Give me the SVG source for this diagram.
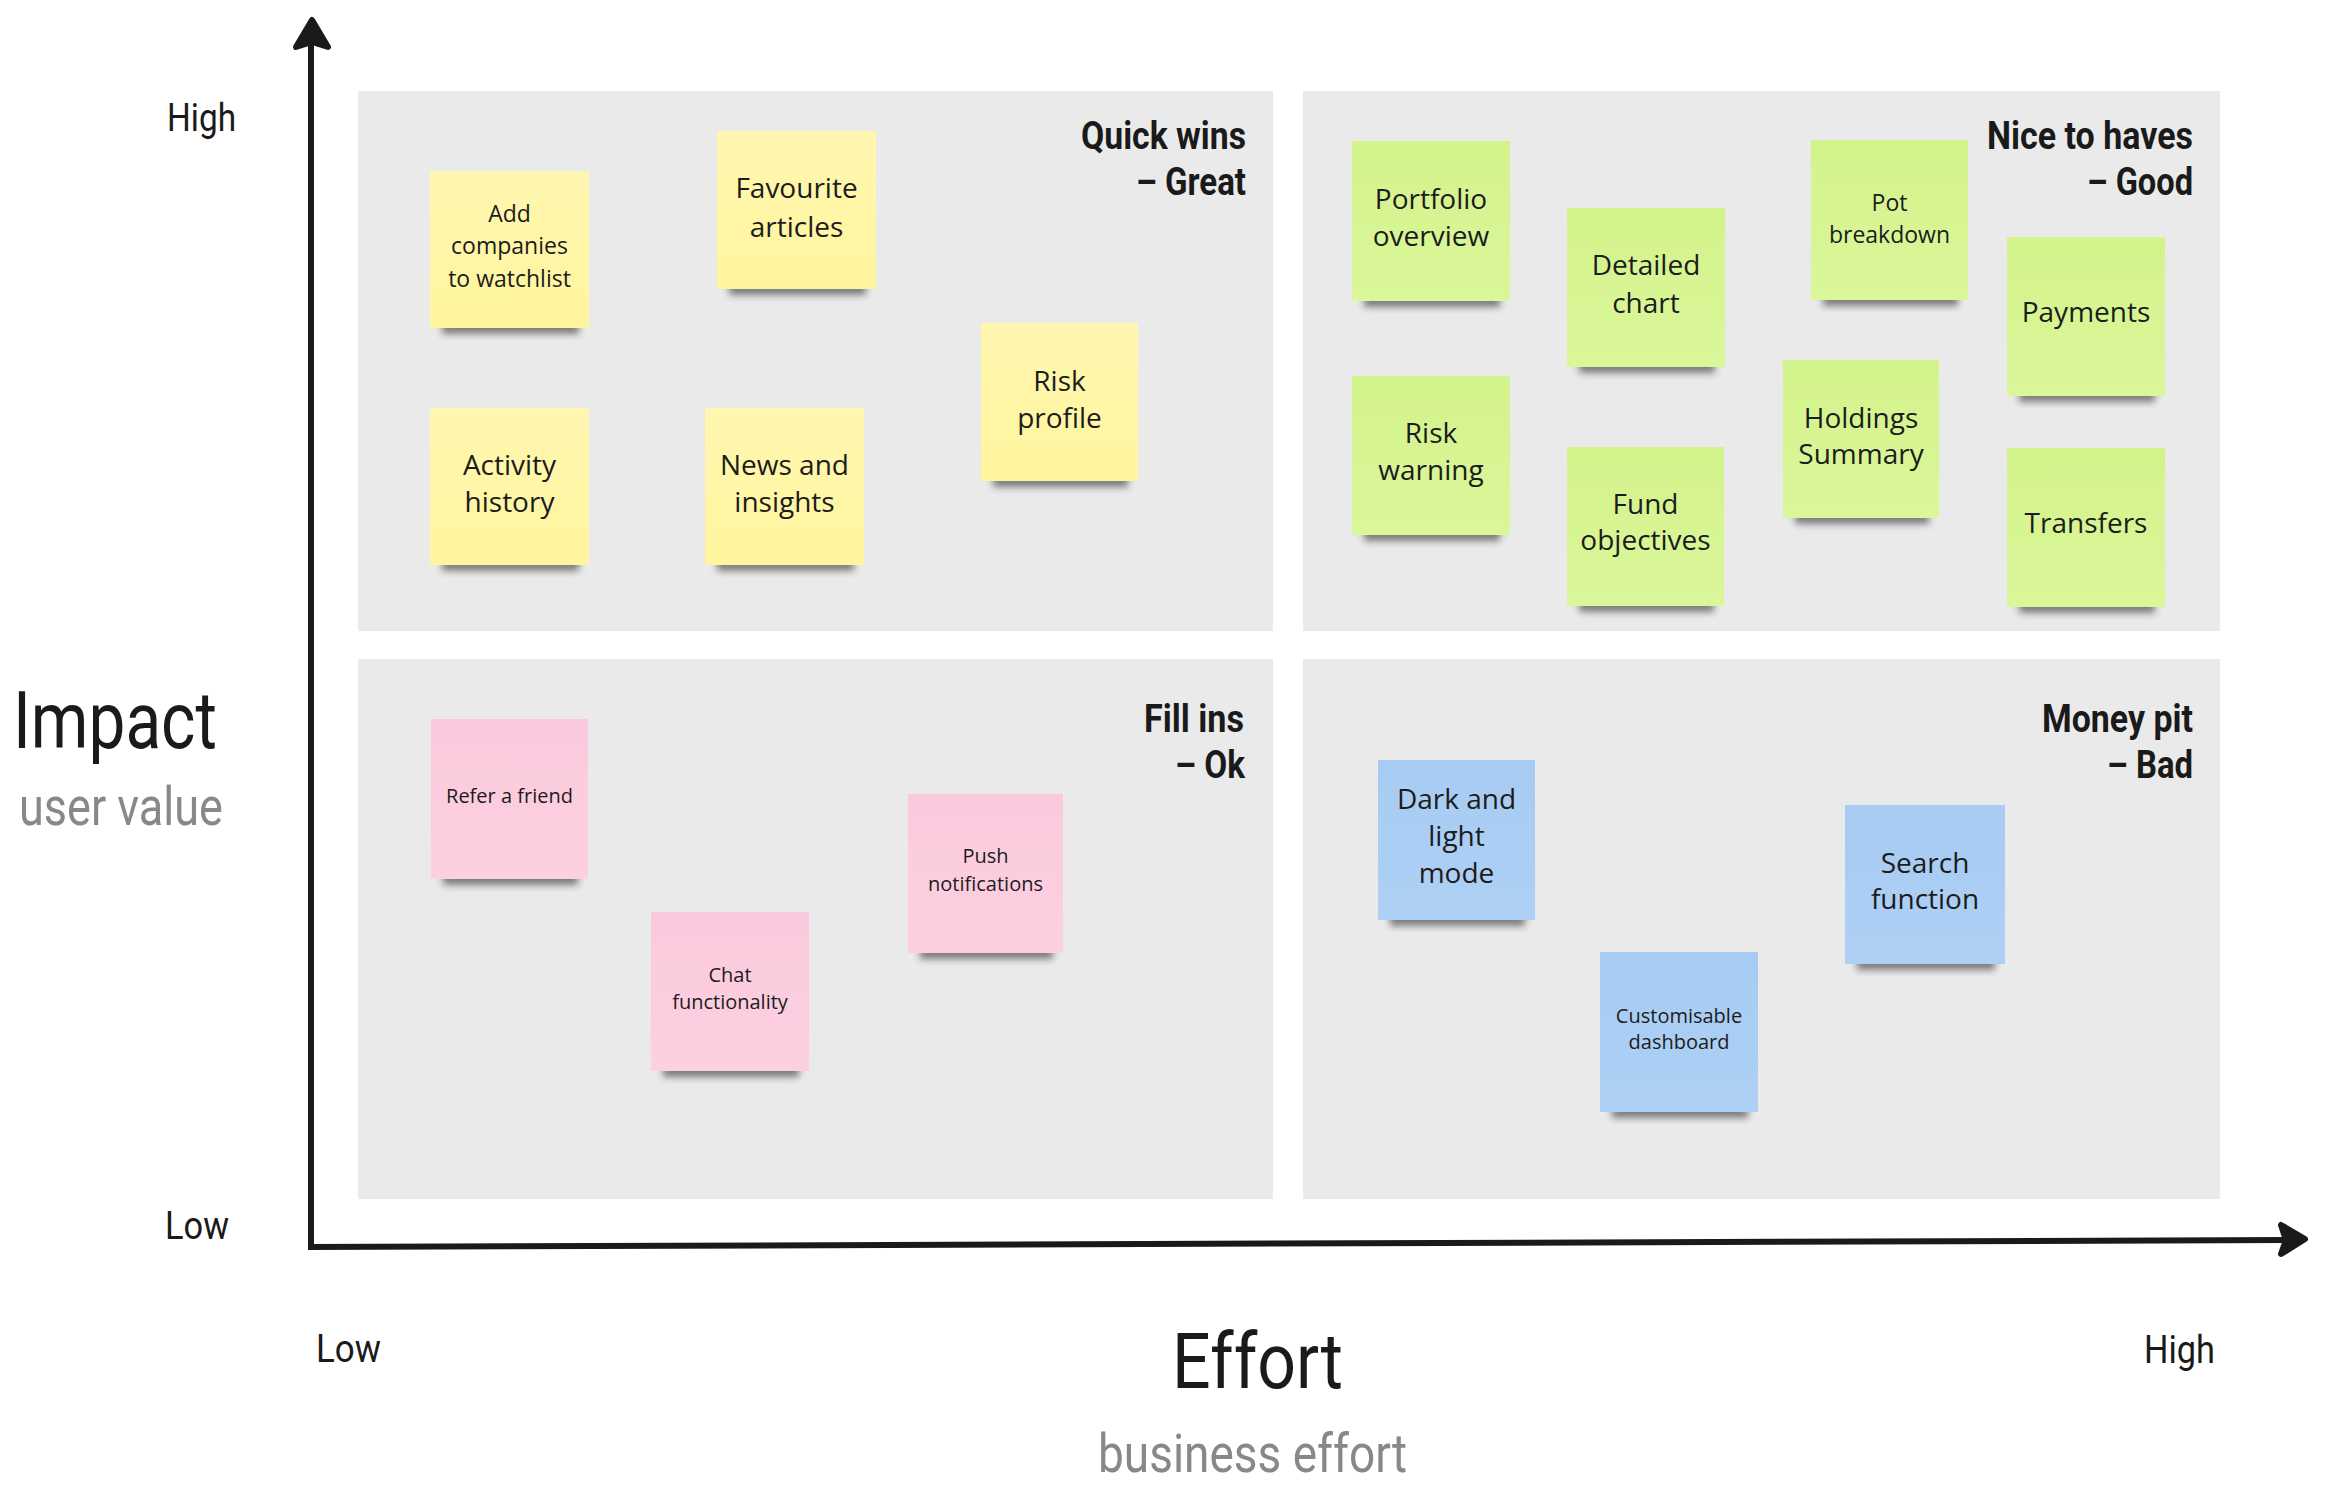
<svg xmlns="http://www.w3.org/2000/svg" width="2327" height="1489" viewBox="0 0 2327 1489">
<defs>
<filter id="sh" x="-20%" y="-100%" width="140%" height="300%"><feGaussianBlur stdDeviation="3.5"/></filter>
<linearGradient id="gy" x1="0" y1="0" x2="0" y2="1"><stop offset="0" stop-color="#FFF7B0"/><stop offset="1" stop-color="#FFF59E"/></linearGradient>
<linearGradient id="gg" x1="0" y1="0" x2="0" y2="1"><stop offset="0" stop-color="#D3F38C"/><stop offset="1" stop-color="#DAF799"/></linearGradient>
<linearGradient id="gp" x1="0" y1="0" x2="0" y2="1"><stop offset="0" stop-color="#FBC9DD"/><stop offset="1" stop-color="#FDD0E1"/></linearGradient>
<linearGradient id="gb" x1="0" y1="0" x2="0" y2="1"><stop offset="0" stop-color="#A7CBF2"/><stop offset="1" stop-color="#AED0F5"/></linearGradient>
</defs>
<style>
.panel{fill:#EAEAEA}
.shadow{fill:#222;opacity:.55;filter:url(#sh)}
.y{fill:url(#gy)}.g{fill:url(#gg)}.p{fill:url(#gp)}.b{fill:url(#gb)}
.nt{font-family:"Open Sans","Noto Sans",sans-serif;fill:#1c1c1c;text-anchor:middle}
.f28{font-size:28px}.f23{font-size:23px}.f20{font-size:20px}
.qt{font-family:Roboto,"Liberation Sans",sans-serif;font-weight:700;font-size:38px;fill:#1a1a1a}
.ax{font-family:Roboto,"Liberation Sans",sans-serif;fill:#1a1a1a}
.sub{fill:#888888}
.axis{stroke:#1a1a1a;stroke-width:6;fill:none;stroke-linecap:butt}
.head{fill:#1a1a1a;stroke:#1a1a1a;stroke-width:6;stroke-linejoin:round}
</style>
<rect width="2327" height="1489" fill="#FFFFFF"/>

<g id="quadrants">
<g id="q-quick-wins">
<rect class="panel" x="358" y="91" width="915" height="540"/>
<text class="qt" x="1081" y="149" textLength="165" lengthAdjust="spacingAndGlyphs">Quick wins</text>
<text class="qt" x="1136" y="195" textLength="110" lengthAdjust="spacingAndGlyphs">– Great</text>
</g>
<g id="q-nice-to-haves">
<rect class="panel" x="1303" y="91" width="917" height="540"/>
<text class="qt" x="1987" y="149" textLength="206" lengthAdjust="spacingAndGlyphs">Nice to haves</text>
<text class="qt" x="2087" y="195" textLength="106" lengthAdjust="spacingAndGlyphs">– Good</text>
</g>
<g id="q-fill-ins">
<rect class="panel" x="358" y="659" width="915" height="540"/>
<text class="qt" x="1144" y="732" textLength="100" lengthAdjust="spacingAndGlyphs">Fill ins</text>
<text class="qt" x="1175" y="778" textLength="70" lengthAdjust="spacingAndGlyphs">– Ok</text>
</g>
<g id="q-money-pit">
<rect class="panel" x="1303" y="659" width="917" height="540"/>
<text class="qt" x="2042" y="732" textLength="151" lengthAdjust="spacingAndGlyphs">Money pit</text>
<text class="qt" x="2107" y="778" textLength="86" lengthAdjust="spacingAndGlyphs">– Bad</text>
</g>
</g>

<g id="connectors">
<line class="axis" x1="311" y1="40" x2="311" y2="1250"/>
<path class="head" d="M312,20 L328,47 L312,42 L296,47 Z"/>
<line class="axis" x1="308" y1="1247" x2="2288" y2="1240"/>
<path class="head" d="M2305,1239 L2281,1225 L2286,1240 L2281,1254 Z"/>
</g>

<g id="labels">
<text class="ax" x="167" y="131" font-size="39" textLength="69" lengthAdjust="spacingAndGlyphs">High</text>
<text class="ax" x="165" y="1239" font-size="39" textLength="64" lengthAdjust="spacingAndGlyphs">Low</text>
<text class="ax" x="316" y="1362" font-size="39" textLength="65" lengthAdjust="spacingAndGlyphs">Low</text>
<text class="ax" x="2144" y="1363" font-size="39" textLength="71" lengthAdjust="spacingAndGlyphs">High</text>
<text class="ax" x="1172" y="1388" font-size="77" textLength="171" lengthAdjust="spacingAndGlyphs">Effort</text>
<text class="ax sub" x="1098" y="1472" font-size="53" textLength="309" lengthAdjust="spacingAndGlyphs">business effort</text>
<text class="ax" x="13" y="748" font-size="79" textLength="204" lengthAdjust="spacingAndGlyphs">Impact</text>
<text class="ax sub" x="19" y="825" font-size="53" textLength="204" lengthAdjust="spacingAndGlyphs">user value</text>
</g>

<g id="stickies">
<g id="n-add-companies">
<rect class="shadow" x="442" y="320" width="137" height="14"/>
<rect class="y" x="430" y="171" width="159" height="157"/>
<text class="nt f23"><tspan x="509.5" y="222">Add</tspan><tspan x="509.5" y="254">companies</tspan><tspan x="509.5" y="287">to watchlist</tspan></text>
</g>
<g id="n-favourite-articles">
<rect class="shadow" x="729" y="281" width="137" height="14"/>
<rect class="y" x="717" y="131" width="159" height="158"/>
<text class="nt f28"><tspan x="796.5" y="198">Favourite</tspan><tspan x="796.5" y="237">articles</tspan></text>
</g>
<g id="n-activity-history">
<rect class="shadow" x="442" y="557" width="137" height="14"/>
<rect class="y" x="430" y="408" width="159" height="157"/>
<text class="nt f28"><tspan x="509.5" y="475">Activity</tspan><tspan x="509.5" y="512">history</tspan></text>
</g>
<g id="n-news-insights">
<rect class="shadow" x="717" y="557" width="137" height="14"/>
<rect class="y" x="705" y="408" width="159" height="157"/>
<text class="nt f28"><tspan x="784.5" y="475">News and</tspan><tspan x="784.5" y="512">insights</tspan></text>
</g>
<g id="n-risk-profile">
<rect class="shadow" x="993" y="473" width="135" height="14"/>
<rect class="y" x="981" y="323" width="157" height="158"/>
<text class="nt f28"><tspan x="1059.5" y="391">Risk</tspan><tspan x="1059.5" y="428">profile</tspan></text>
</g>

<g id="n-portfolio-overview">
<rect class="shadow" x="1364" y="293" width="136" height="14"/>
<rect class="g" x="1352" y="141" width="158" height="160"/>
<text class="nt f28"><tspan x="1431" y="209">Portfolio</tspan><tspan x="1431" y="246">overview</tspan></text>
</g>
<g id="n-detailed-chart">
<rect class="shadow" x="1579" y="359" width="136" height="14"/>
<rect class="g" x="1567" y="208" width="158" height="159"/>
<text class="nt f28"><tspan x="1646" y="275">Detailed</tspan><tspan x="1646" y="313">chart</tspan></text>
</g>
<g id="n-pot-breakdown">
<rect class="shadow" x="1823" y="292" width="135" height="14"/>
<rect class="g" x="1811" y="140" width="157" height="160"/>
<text class="nt f23"><tspan x="1889.5" y="211">Pot</tspan><tspan x="1889.5" y="243">breakdown</tspan></text>
</g>
<g id="n-payments">
<rect class="shadow" x="2019" y="388" width="136" height="14"/>
<rect class="g" x="2007" y="237" width="158" height="159"/>
<text class="nt f28"><tspan x="2086" y="322">Payments</tspan></text>
</g>
<g id="n-risk-warning">
<rect class="shadow" x="1364" y="527" width="136" height="14"/>
<rect class="g" x="1352" y="376" width="158" height="159"/>
<text class="nt f28"><tspan x="1431" y="443">Risk</tspan><tspan x="1431" y="480">warning</tspan></text>
</g>
<g id="n-fund-objectives">
<rect class="shadow" x="1579" y="598" width="135" height="14"/>
<rect class="g" x="1567" y="447" width="157" height="159"/>
<text class="nt f28"><tspan x="1645.5" y="514">Fund</tspan><tspan x="1645.5" y="550">objectives</tspan></text>
</g>
<g id="n-holdings-summary">
<rect class="shadow" x="1795" y="510" width="134" height="14"/>
<rect class="g" x="1783" y="360" width="156" height="158"/>
<text class="nt f28"><tspan x="1861" y="428">Holdings</tspan><tspan x="1861" y="464">Summary</tspan></text>
</g>
<g id="n-transfers">
<rect class="shadow" x="2019" y="599" width="136" height="14"/>
<rect class="g" x="2007" y="448" width="158" height="159"/>
<text class="nt f28"><tspan x="2086" y="533">Transfers</tspan></text>
</g>

<g id="n-refer-friend">
<rect class="shadow" x="443" y="871" width="135" height="14"/>
<rect class="p" x="431" y="719" width="157" height="160"/>
<text class="nt f20"><tspan x="509.5" y="803">Refer a friend</tspan></text>
</g>
<g id="n-chat-functionality">
<rect class="shadow" x="663" y="1063" width="136" height="14"/>
<rect class="p" x="651" y="912" width="158" height="159"/>
<text class="nt f20"><tspan x="730" y="982">Chat</tspan><tspan x="730" y="1009">functionality</tspan></text>
</g>
<g id="n-push-notifications">
<rect class="shadow" x="920" y="945" width="133" height="14"/>
<rect class="p" x="908" y="794" width="155" height="159"/>
<text class="nt f20"><tspan x="985.5" y="863">Push</tspan><tspan x="985.5" y="891">notifications</tspan></text>
</g>

<g id="n-dark-light-mode">
<rect class="shadow" x="1390" y="912" width="135" height="14"/>
<rect class="b" x="1378" y="760" width="157" height="160"/>
<text class="nt f28"><tspan x="1456.5" y="809">Dark and</tspan><tspan x="1456.5" y="846">light</tspan><tspan x="1456.5" y="883">mode</tspan></text>
</g>
<g id="n-customisable-dashboard">
<rect class="shadow" x="1612" y="1104" width="136" height="14"/>
<rect class="b" x="1600" y="952" width="158" height="160"/>
<text class="nt f20"><tspan x="1679" y="1023">Customisable</tspan><tspan x="1679" y="1049">dashboard</tspan></text>
</g>
<g id="n-search-function">
<rect class="shadow" x="1857" y="956" width="138" height="14"/>
<rect class="b" x="1845" y="805" width="160" height="159"/>
<text class="nt f28"><tspan x="1925" y="873">Search</tspan><tspan x="1925" y="909">function</tspan></text>
</g>
</g>
</svg>
